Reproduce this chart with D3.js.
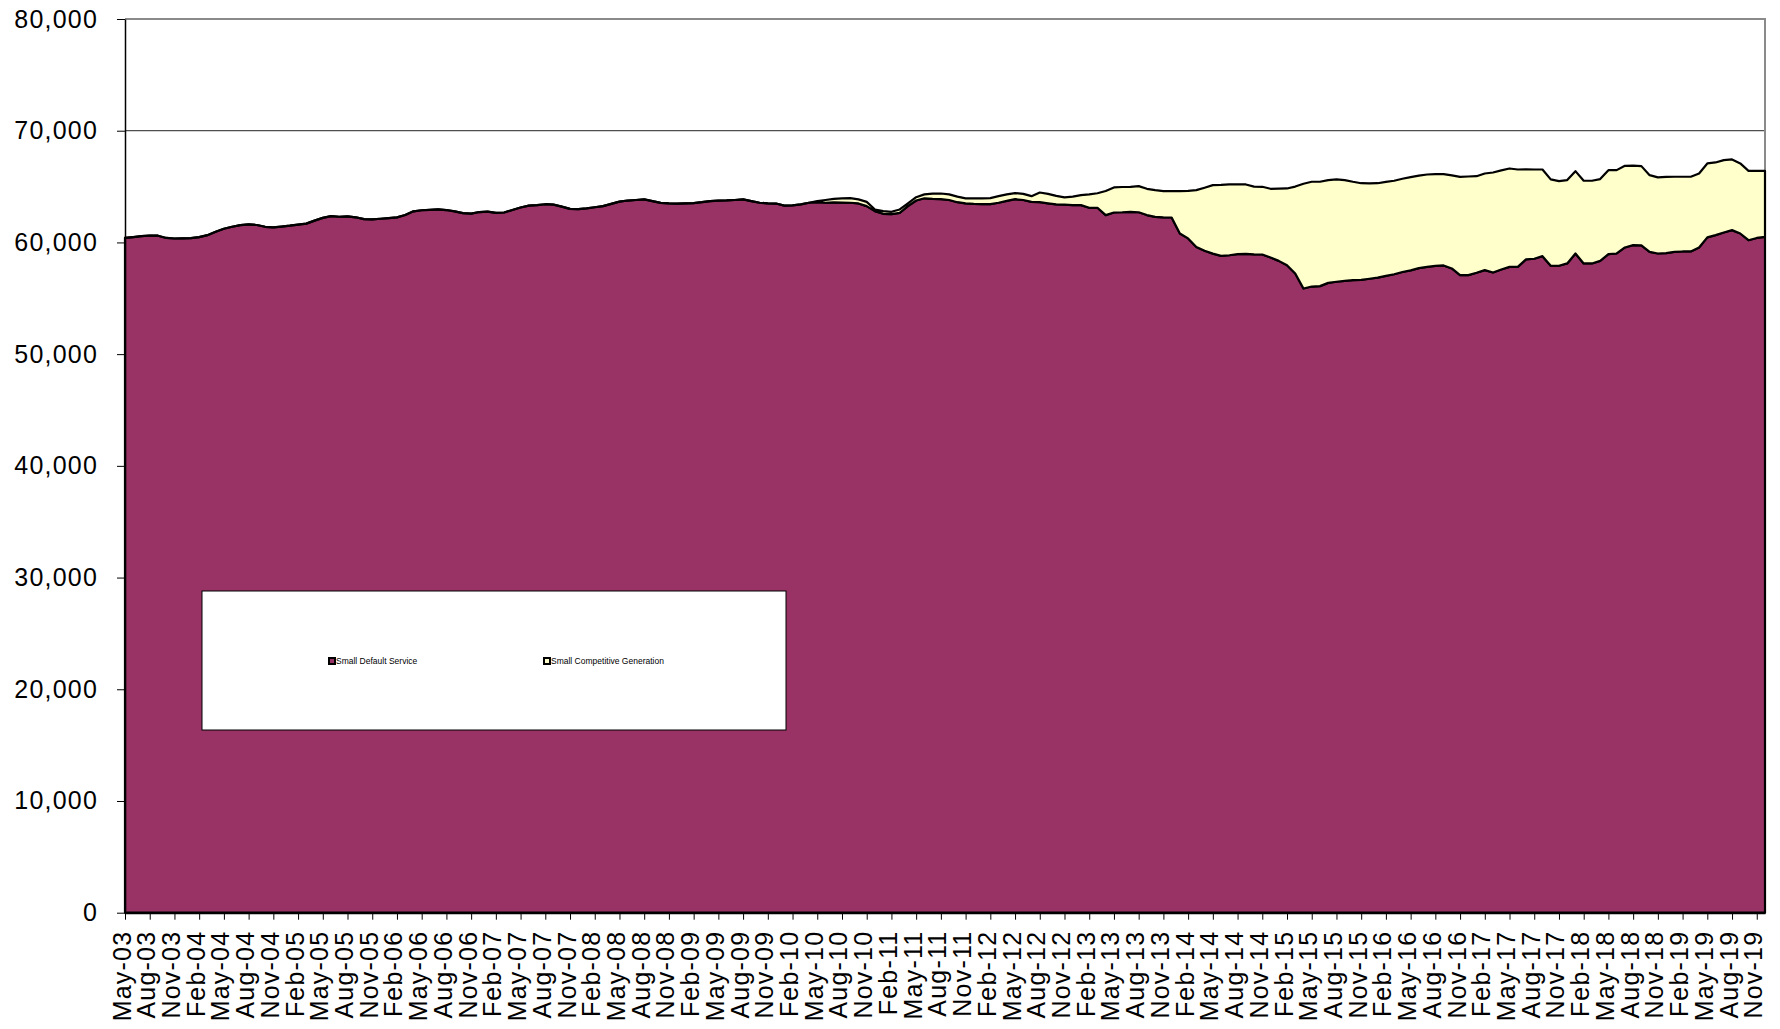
<!DOCTYPE html>
<html>
<head>
<meta charset="utf-8">
<script src="https://cdn.jsdelivr.net/npm/d3@7"></script>
<style>
  body { margin: 0; background: #fff; }
  svg { display: block; font-family: "Liberation Sans", Arial, sans-serif; }
</style>
</head>
<body>
<svg width="1780" height="1029"></svg>
<script>
// monthly values, May-03 .. Dec-19 (200 months)
var defaultService = [
  60400, 60480, 60560, 60620, 60600, 60400, 60350, 60360, 60380, 60480,
  60650, 60950, 61220, 61400, 61550, 61620, 61560, 61400, 61340, 61420,
  61500, 61600, 61680, 61950, 62200, 62350, 62300, 62330, 62250, 62080,
  62060, 62120, 62180, 62240, 62450, 62780, 62880, 62920, 62950, 62900,
  62780, 62620, 62580, 62720, 62760, 62650, 62680, 62900, 63130, 63300,
  63340, 63420, 63380, 63200, 63000, 62980, 63050, 63150, 63250, 63450,
  63650, 63750, 63800, 63850, 63700, 63540, 63500, 63480, 63500, 63520,
  63600, 63700, 63740, 63760, 63800, 63850, 63700, 63550, 63500, 63480,
  63300, 63320, 63400, 63550, 63600, 63550, 63580, 63560, 63550, 63490,
  63250, 62800, 62560, 62530, 62650, 63250, 63750, 63950, 63900, 63870,
  63800, 63600, 63490, 63450, 63430, 63430, 63550, 63720, 63870, 63800,
  63630, 63610, 63500, 63400, 63380, 63340, 63340, 63100, 63100, 62440,
  62680, 62700, 62740, 62700, 62450, 62290, 62250, 62230, 60800, 60360,
  59600, 59250, 59000, 58800, 58850, 58950, 58980, 58930, 58920, 58650,
  58350, 57950, 57220, 55880, 56050, 56090, 56380, 56480, 56550, 56620,
  56650, 56750, 56850, 57000, 57150, 57350, 57500, 57700, 57810, 57900,
  57940, 57670, 57070, 57070, 57280, 57520, 57310, 57580, 57810, 57810,
  58480, 58540, 58770, 57910, 57910, 58120, 59010, 58120, 58120, 58350,
  58950, 59010, 59550, 59760, 59740, 59160, 59010, 59050, 59150, 59190,
  59190, 59550, 60450, 60650, 60890, 61100, 60800, 60200, 60400, 60500
];
var competitiveGen = [
  0, 0, 0, 0, 0, 0, 0, 0, 0, 0,
  0, 0, 0, 0, 0, 0, 0, 0, 0, 0,
  0, 0, 0, 0, 0, 0, 0, 0, 0, 0,
  0, 0, 0, 0, 0, 0, 0, 0, 0, 0,
  0, 0, 0, 0, 0, 0, 0, 0, 0, 0,
  0, 0, 0, 0, 0, 0, 0, 0, 0, 0,
  0, 0, 0, 0, 0, 0, 0, 0, 0, 0,
  0, 0, 0, 0, 0, 0, 0, 0, 0, 0,
  0, 0, 0, 0, 100, 250, 320, 380, 410, 360,
  380, 150, 240, 210, 300, 250, 300, 350, 460, 510,
  500, 500, 460, 490, 520, 540, 600, 580, 550, 550,
  510, 860, 850, 770, 650, 760, 890, 1200, 1300, 2160,
  2240, 2260, 2240, 2340, 2350, 2390, 2350, 2360, 3800, 4260,
  5080, 5650, 6130, 6350, 6340, 6250, 6210, 6070, 6060, 6150,
  6470, 6880, 7780, 9370, 9380, 9340, 9200, 9160, 9030, 8810,
  8650, 8530, 8450, 8420, 8370, 8350, 8350, 8280, 8270, 8210,
  8170, 8330, 8800, 8830, 8650, 8650, 8950, 8870, 8810, 8720,
  8060, 7990, 7760, 7730, 7580, 7460, 7370, 7400, 7400, 7320,
  7520, 7460, 7310, 7120, 7090, 6860, 6810, 6820, 6730, 6690,
  6690, 6620, 6620, 6510, 6480, 6330, 6270, 6210, 6010, 5910
];
var seriesNames = ["Small Default Service", "Small Competitive Generation"];
var seriesColors = ["#993366", "#FFFFCC"];
var yTicks = [0, 10000, 20000, 30000, 40000, 50000, 60000, 70000, 80000];

var months = d3.timeMonth.range(new Date(2003, 4, 1), new Date(2020, 0, 1));
var fmtMonth = d3.timeFormat("%b-%y");

var svg = d3.select("svg");
var plotL = 125, plotR = 1765, plotT = 19, plotB = 912.7;

var x = d3.scaleLinear().domain([0, months.length - 1]).range([plotL, plotR]);
var y = d3.scaleLinear().domain([0, 80000]).range([plotB, plotT]);

var table = months.map(function(m, i) {
  return { month: m, def: defaultService[i], comp: competitiveGen[i] };
});
var stacked = d3.stack().keys(["def", "comp"])(table);

// gridlines (hidden under area except the upper ones)
svg.append("g").selectAll("line").data(yTicks.filter(function(t) { return t > 0 && t < 80000; }))
  .enter().append("line")
  .attr("x1", plotL).attr("x2", plotR)
  .attr("y1", function(d) { return y(d); }).attr("y2", function(d) { return y(d); })
  .attr("stroke", "#222").attr("stroke-width", 1);

// plot border (top / right)
svg.append("path")
  .attr("d", "M" + plotL + "," + plotT + "H" + plotR + "V" + plotB)
  .attr("fill", "none").attr("stroke", "#8a8a8a").attr("stroke-width", 2);

var area = d3.area()
  .x(function(d, i) { return x(i); })
  .y0(function(d) { return y(d[0]); })
  .y1(function(d) { return y(d[1]); });

svg.append("g").selectAll("path").data(stacked).enter().append("path")
  .attr("d", area)
  .attr("fill", function(d, i) { return seriesColors[i]; })
  .attr("stroke", "#000").attr("stroke-width", 2.2)
  .attr("stroke-linejoin", "round");

// y axis
var yAxis = svg.append("g").attr("transform", "translate(" + plotL + ",0)")
  .call(d3.axisLeft(y).tickValues(yTicks).tickFormat(d3.format(",")).tickSize(8).tickSizeOuter(0).tickPadding(19));
yAxis.select(".domain").attr("stroke", "#000").attr("stroke-width", 1.5);
yAxis.selectAll("line").attr("stroke", "#000");
yAxis.selectAll("text").attr("font-size", 25).attr("letter-spacing", "1.2px")
  .attr("fill", "#000").attr("font-family", "'Liberation Sans', Arial, sans-serif");

// x axis
var xAxis = svg.append("g").attr("transform", "translate(0," + plotB + ")")
  .call(d3.axisBottom(x).tickValues(d3.range(0, months.length, 3))
    .tickFormat(function(i) { return fmtMonth(months[i]); })
    .tickSize(7).tickSizeOuter(0));
xAxis.select(".domain").attr("stroke", "#000").attr("stroke-width", 2);
xAxis.selectAll("line").attr("stroke", "#000");
xAxis.selectAll("text")
  .attr("transform", "rotate(-90)")
  .attr("text-anchor", "end")
  .attr("x", -18).attr("y", 5).attr("dy", null)
  .attr("font-size", 25).attr("letter-spacing", "1.2px")
  .attr("fill", "#000").attr("font-family", "'Liberation Sans', Arial, sans-serif");

// legend
var legend = svg.append("g");
legend.append("rect")
  .attr("x", 202).attr("y", 591).attr("width", 584).attr("height", 139)
  .attr("fill", "#fff").attr("stroke", "#000").attr("stroke-width", 1);
var legendX = [329, 544];
var items = legend.selectAll("g.item").data(seriesNames).enter().append("g")
  .attr("class", "item")
  .attr("transform", function(d, i) { return "translate(" + legendX[i] + ",661)"; });
items.append("rect")
  .attr("x", 0).attr("y", -3).attr("width", 6).attr("height", 6)
  .attr("fill", function(d, i) { return seriesColors[i]; })
  .attr("stroke", "#000").attr("stroke-width", 2);
items.append("text")
  .attr("x", 7).attr("y", 3)
  .attr("font-size", 8.5).attr("fill", "#000")
  .text(function(d) { return d; });
</script>
</body>
</html>
